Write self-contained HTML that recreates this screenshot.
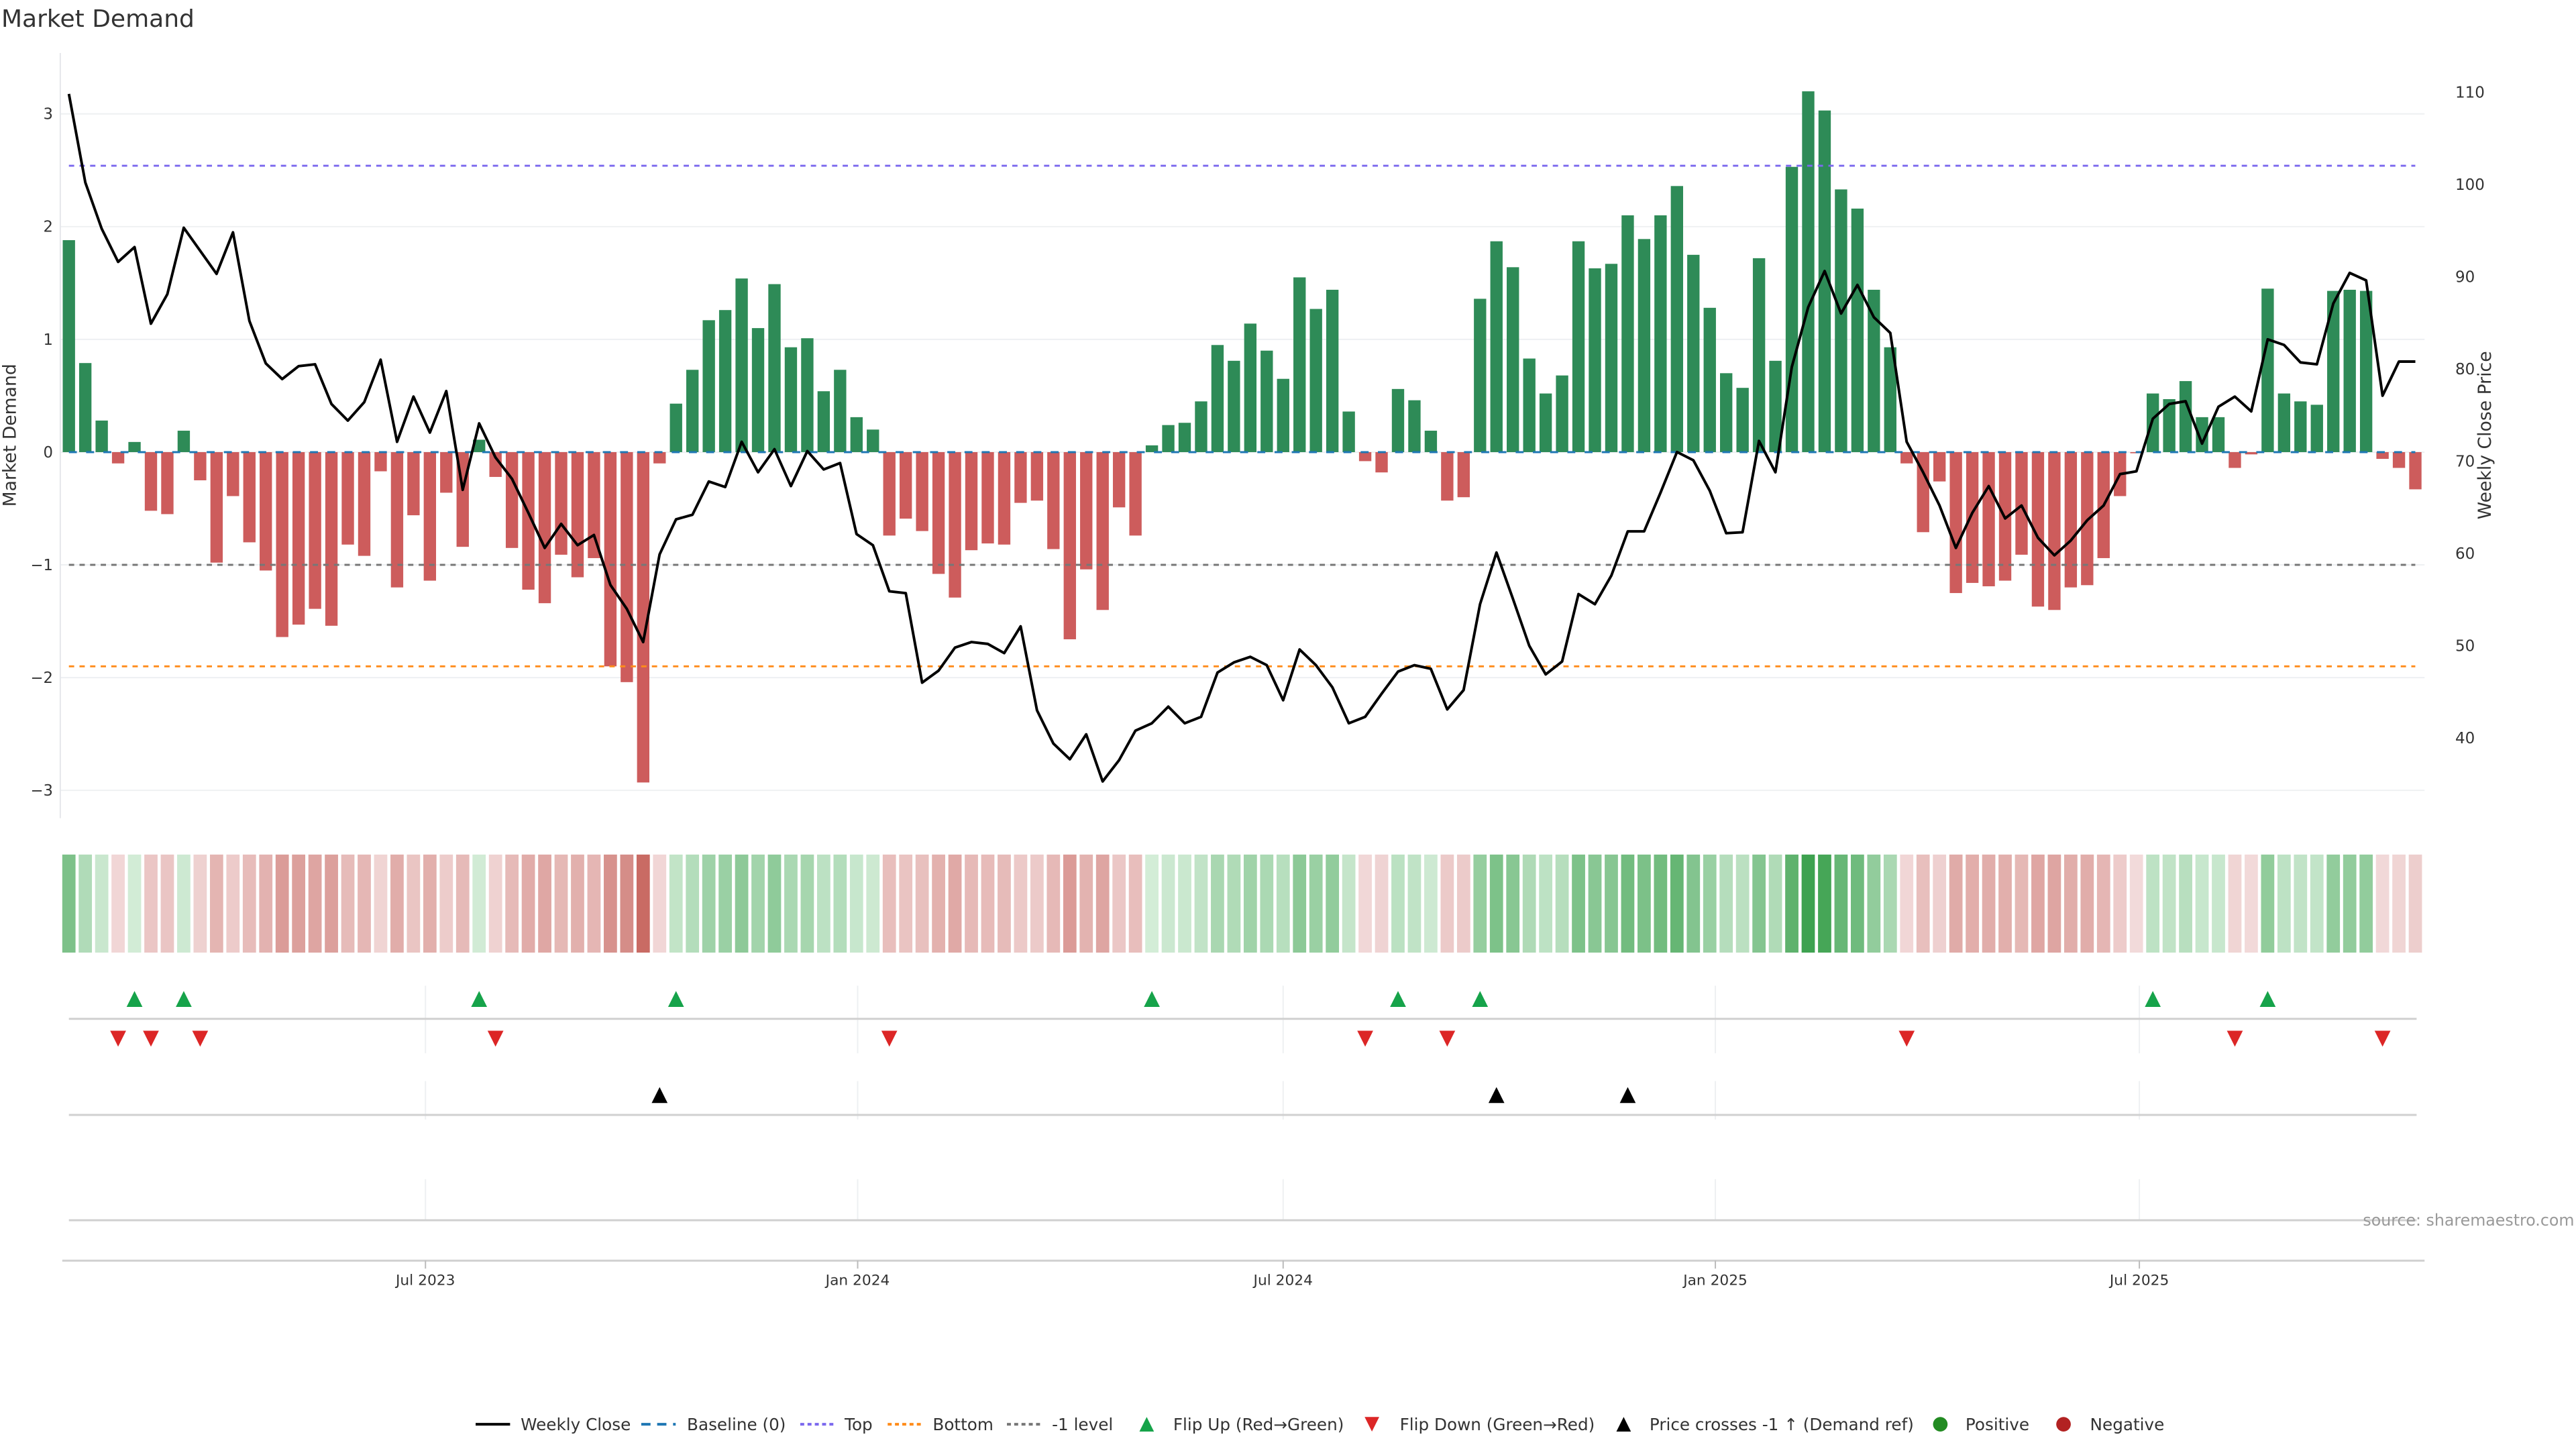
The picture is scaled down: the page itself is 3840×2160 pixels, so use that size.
<!DOCTYPE html>
<html><head><meta charset="utf-8"><title>Market Demand</title>
<style>
html,body{margin:0;padding:0;background:#fff;}
svg{display:block;font-family:"DejaVu Sans","Liberation Sans",sans-serif;}
</style></head>
<body>
<svg id="chart" width="3840" height="2160" viewBox="0 0 3840 2160" xmlns="http://www.w3.org/2000/svg">
<rect width="3840" height="2160" fill="#fff"/>
<text x="2" y="40" font-size="36" fill="#333">Market Demand</text>
<g id="main" transform="scale(0.9875)"></g>
<g id="rticks"></g>
</svg>
<script>
const demand = [1.88,0.79,0.28,-0.10,0.09,-0.52,-0.55,0.19,-0.25,-0.98,
-0.39,-0.80,-1.05,-1.64,-1.53,-1.39,-1.54,-0.82,-0.92,-0.17,
-1.20,-0.56,-1.14,-0.36,-0.84,0.11,-0.22,-0.85,-1.22,-1.34,
-0.91,-1.11,-0.94,-1.90,-2.04,-2.93,-0.10,0.43,0.73,1.17,
1.26,1.54,1.10,1.49,0.93,1.01,0.54,0.73,0.31,0.20,
-0.74,-0.59,-0.70,-1.08,-1.29,-0.87,-0.81,-0.82,-0.45,-0.43,
-0.86,-1.66,-1.04,-1.40,-0.49,-0.74,0.06,0.24,0.26,0.45,
0.95,0.81,1.14,0.90,0.65,1.55,1.27,1.44,0.36,-0.08,
-0.18,0.56,0.46,0.19,-0.43,-0.40,1.36,1.87,1.64,0.83,
0.52,0.68,1.87,1.63,1.67,2.10,1.89,2.10,2.36,1.75,
1.28,0.70,0.57,1.72,0.81,2.53,3.20,3.03,2.33,2.16,
1.44,0.93,-0.10,-0.71,-0.26,-1.25,-1.16,-1.19,-1.14,-0.91,
-1.37,-1.40,-1.20,-1.18,-0.94,-0.39,-0.01,0.52,0.47,0.63,
0.31,0.31,-0.14,-0.02,1.45,0.52,0.45,0.42,1.43,1.44,
1.43,-0.06,-0.14,-0.33];
const price = [109.8,100.2,95.2,91.6,93.2,84.9,88.1,95.3,92.8,90.3,
94.8,85.2,80.6,78.9,80.3,80.5,76.2,74.4,76.4,81.0,
72.1,77.0,73.1,77.6,66.9,74.1,70.4,68.1,64.4,60.6,
63.2,60.9,62.0,56.6,54.0,50.4,59.9,63.7,64.2,67.8,
67.2,72.1,68.8,71.3,67.3,71.1,69.1,69.8,62.1,60.9,
55.9,55.7,46.0,47.3,49.8,50.4,50.2,49.2,52.1,43.0,
39.4,37.7,40.4,35.3,37.6,40.8,41.6,43.4,41.6,42.3,
47.1,48.2,48.8,47.9,44.1,49.6,47.9,45.5,41.6,42.3,
44.8,47.2,47.9,47.5,43.1,45.2,54.5,60.1,55.1,50.0,
46.9,48.3,55.6,54.5,57.6,62.4,62.4,66.6,71.0,70.1,
66.8,62.2,62.3,72.2,68.8,80.2,86.7,90.6,86.0,89.1,
85.6,83.9,72.1,68.8,65.2,60.6,64.4,67.3,63.8,65.2,
61.7,59.8,61.4,63.6,65.2,68.6,68.9,74.6,76.2,76.5,
71.9,75.9,77.0,75.4,83.2,82.6,80.7,80.5,87.1,90.4,
89.6,77.1,80.8,80.8];
const leftTicks = [3,2,1,0,-1,-2,-3];
const rightTicks = [110,100,90,80,70,60,50,40];
const dateTickLabels = ["Jul 2023","Jan 2024","Jul 2024","Jan 2025","Jul 2025"];
const dateTickWeeks = [21.73,48.07,74.0,100.34,126.18];
const topLevel = 2.54;
const bottomLevel = -1.9;
const minusOneLevel = -1;

const NS = "http://www.w3.org/2000/svg";
const g = document.getElementById("main");
const rt = document.getElementById("rticks");
const SC = 0.9875;
function el(tag, attrs, parent){const e=document.createElementNS(NS,tag);for(const k in attrs)e.setAttribute(k,attrs[k]);(parent||g).appendChild(e);return e;}
const X0=104, XS=24.77;
function xw(i){return X0+XS*i;}
function yd(v){return 682.5-170.2*v;}
function yp(p){return 139+(110-p)*13.93;}
function ypInv(y){return 110-(y-139)/13.93;}
const plotL=91, plotR=3660;

leftTicks.forEach(t=>{
  const l=el("line",{x1:plotL,x2:plotR,y1:yd(t),y2:yd(t),stroke:"#eef0f2","stroke-width":2});
  
  
  const tx=el("text",{x:80,y:yd(t)+8,"text-anchor":"end","font-size":23,fill:"#333"});
  tx.textContent = t<0 ? "\u2212"+Math.abs(t) : String(t);
  
  
});
const ax=el("line",{x1:plotL,x2:plotL,y1:80,y2:1235,stroke:"#e5e7eb","stroke-width":2});


rightTicks.forEach(t=>{
  const tx=el("text",{x:3660,y:yp(t)*SC+8,"font-size":23,fill:"#333"},rt);
  tx.textContent=String(t);
  
  
});
let yl=el("text",{x:0,y:0,"font-size":27,fill:"#333","text-anchor":"middle",transform:"translate(24,657) rotate(-90)"});
yl.textContent="Market Demand";


let yr=el("text",{x:0,y:0,"font-size":27,fill:"#333","text-anchor":"middle",transform:"translate(3760,657) rotate(-90)"});
yr.textContent="Weekly Close Price";



const bw=18.6;
demand.forEach((v,i)=>{
  const y0=yd(0), y1=yd(v);
  const r=el("rect",{x:xw(i)-bw/2,y:Math.min(y0,y1),width:bw,height:Math.max(Math.abs(y1-y0),0.5),fill:v>=0?"#2e8b57":"#cd5c5c"});
  
  
});
function hline(v,color,name,dash){
  const l=el("line",{x1:104,x2:3646,y1:yd(v),y2:yd(v),stroke:color,"stroke-width":3,"stroke-dasharray":dash});
  
  
}
hline(0,"#1f77b4","baseline-zero","12 14");
hline(topLevel,"#7b68ee","top-level-line","8 8");
hline(bottomLevel,"#ff8c1a","bottom-level-line","8 8");
hline(minusOneLevel,"#777","minus-one-level-line","8 8");
const pts=price.map((p,i)=>xw(i).toFixed(1)+","+yp(p).toFixed(1)).join(" ");
const pl=el("polyline",{points:pts,fill:"none",stroke:"#000","stroke-width":4,"stroke-linejoin":"round"});



function mix(a,b,t){return "rgb("+a.map((c,k)=>Math.round(c+(b[k]-c)*t)).join(",")+")";}
demand.forEach((v,i)=>{
  const t=Math.min(Math.abs(v)/3.2,1);
  const col = v>=0 ? mix([214,238,218],[62,162,80],t) : mix([242,218,218],[197,97,89],t);
  const c=el("rect",{x:xw(i)-10,y:1290,width:20,height:148,fill:col});
  
  
});

[[1488,1590],[1632,1690],[1780,1842]].forEach(r=>{
  dateTickWeeks.forEach(w=>{
    const l=el("line",{x1:xw(w),x2:xw(w),y1:r[0],y2:r[1],stroke:"#eef0f2","stroke-width":2});
    
    
  });
});
[1538,1683,1842].forEach(y=>{
  const l=el("line",{x1:104,x2:3648,y1:y,y2:y,stroke:"#d0d0d0","stroke-width":3});
  
  
});
const xa=el("line",{x1:94,x2:3660,y1:1903,y2:1903,stroke:"#d0d0d0","stroke-width":3});


dateTickWeeks.forEach((w,k)=>{
  const tk=el("line",{x1:xw(w),x2:xw(w),y1:1903,y2:1915,stroke:"#bbb","stroke-width":2});
  
  
  const tx=el("text",{x:xw(w),y:1940,"text-anchor":"middle","font-size":22,fill:"#333"});
  tx.textContent=dateTickLabels[k];
  
  
});
function tri(x,y,up,color,name){
  const s=12;
  const p = up ? `${x-s},${y+s} ${x+s},${y+s} ${x},${y-s}` : `${x-s},${y-s} ${x+s},${y-s} ${x},${y+s}`;
  const t=el("polygon",{points:p,fill:color});
  
  
}
let lastSign=0;
demand.forEach((v,i)=>{
  const s = v>0?1:(v<0?-1:0);
  if(s!==0){
    if(lastSign===-1 && s===1) tri(xw(i),1508,true,"#16a34a","flip-up-marker");
    if(lastSign===1 && s===-1) tri(xw(i),1568,false,"#dc2626","flip-down-marker");
    lastSign=s;
  }
});
const priceRef = ypInv(yd(minusOneLevel));
price.forEach((p,i)=>{
  if(i>0 && price[i-1]<priceRef && p>=priceRef) tri(xw(i),1653,true,"#000","price-cross-marker");
});

let src=el("text",{x:3886,y:1850,"text-anchor":"end","font-size":24,fill:"#999"});
src.textContent="source: sharemaestro.com";



const LY=2150;
const lg=el("g",{});


function ltext(x,str){const t=el("text",{x:x,y:LY+9,"font-size":25,fill:"#333"},lg);t.textContent=str;}
function lline(x,color,dash,w){const l=el("line",{x1:x,x2:x+52,y1:LY,y2:LY,stroke:color,"stroke-width":w,"stroke-dasharray":dash},lg);}
lline(718,"#000","none",4); ltext(786,"Weekly Close");
lline(968,"#1f77b4","14 10",4); ltext(1037,"Baseline (0)");
lline(1208,"#7b68ee","6 5",4); ltext(1275,"Top");
lline(1340,"#ff8c1a","6 5",4); ltext(1408,"Bottom");
lline(1520,"#777","6 5",4); ltext(1588,"-1 level");
function ltri(x,up,color){const s=11;const p= up?`${x-s},${LY+s} ${x+s},${LY+s} ${x},${LY-s}`:`${x-s},${LY-s} ${x+s},${LY-s} ${x},${LY+s}`;const t=el("polygon",{points:p,fill:color},lg);}
ltri(1731,true,"#16a34a"); ltext(1771,"Flip Up (Red\u2192Green)");
ltri(2071,false,"#dc2626"); ltext(2113,"Flip Down (Green\u2192Red)");
ltri(2451,true,"#000"); ltext(2490,"Price crosses -1 \u2191 (Demand ref)");
function ldot(x,color){const c=el("circle",{cx:x,cy:LY,r:11,fill:color},lg);}
ldot(2929,"#228b22"); ltext(2967,"Positive");
ldot(3115,"#b22222"); ltext(3155,"Negative");
</script>
</body></html>
